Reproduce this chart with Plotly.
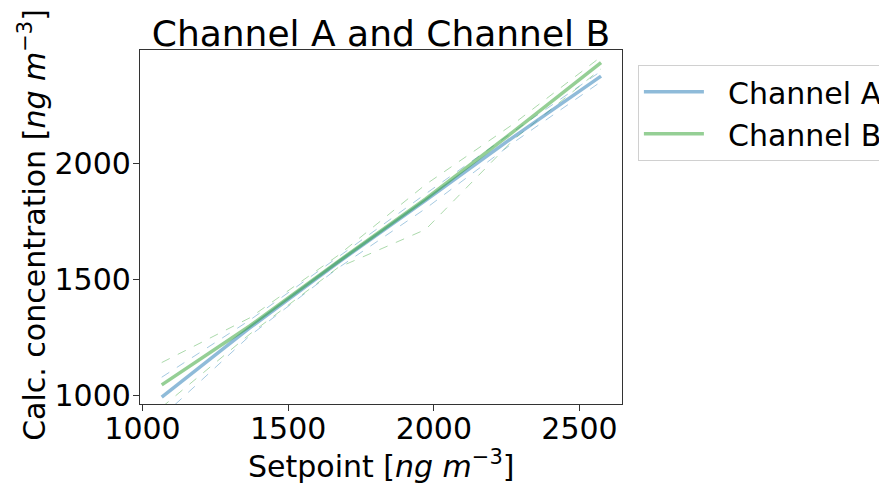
import plotly.graph_objects as go

setpoints = [1066, 1368, 1670, 1972, 2273, 2574]

chan_a_mean = [995, 1292, 1572, 1840, 2112, 2374]
chan_a_upper = [1080, 1325, 1595, 1868, 2135, 2395]
chan_a_lower = [910, 1258, 1548, 1805, 2088, 2350]

chan_b_mean = [1047, 1300, 1576, 1846, 2135, 2432]
chan_b_upper = [1143, 1335, 1602, 1908, 2168, 2457]
chan_b_lower = [951, 1265, 1550, 1715, 2100, 2405]

x_ticks = [1000, 1500, 2000, 2500]
y_ticks = [1000, 1500, 2000]

blue = "rgba(31,119,180,0.5)"
green = "rgba(44,160,44,0.5)"
blue_d = "rgba(31,119,180,0.4)"
green_d = "rgba(44,160,44,0.4)"

FONT = "DejaVu Sans"
NB = "\u00a0\u00a0"

fig = go.Figure()
for lo, hi, col in [(chan_a_lower, chan_a_upper, blue_d), (chan_b_lower, chan_b_upper, green_d)]:
    for arr in (lo, hi):
        fig.add_trace(go.Scatter(x=setpoints, y=arr, mode="lines", showlegend=False,
                                 line=dict(color=col, width=1, dash="dash"), hoverinfo="skip"))

fig.add_trace(go.Scatter(x=setpoints, y=chan_a_mean, mode="lines", name=NB + "Channel A",
                         line=dict(color=blue, width=3.5)))
fig.add_trace(go.Scatter(x=setpoints, y=chan_b_mean, mode="lines", name=NB + "Channel B",
                         line=dict(color=green, width=3.5)))

axis_common = dict(showgrid=False, zeroline=False, showline=True, linecolor="#333",
                   linewidth=1.2, mirror=True, ticks="outside", ticklen=6, tickwidth=1.2,
                   tickcolor="#333", automargin=False,
                   tickfont=dict(family=FONT, size=30, color="black"))

fig.update_layout(
    width=887, height=483,
    margin=dict(l=132, r=273, t=42, b=87, autoexpand=False),
    paper_bgcolor="white", plot_bgcolor="white",
    font=dict(family=FONT, color="black"),
    title=dict(text="Channel A and Channel B", x=0.5, xref="paper", xanchor="center",
               y=1.0, yref="paper", yanchor="bottom", pad=dict(b=4),
               font=dict(family=FONT, size=36, color="black")),
    xaxis=dict(range=[991.4, 2646], tickvals=x_ticks, ticktext=[str(v) for v in x_ticks],
               ticklabelstandoff=-8, **axis_common),
    yaxis=dict(range=[965, 2486], tickvals=y_ticks, ticktext=[str(v) for v in y_ticks],
               ticklabelstandoff=-4, **axis_common),
    legend=dict(x=1.033, y=0.958, xanchor="left", yanchor="top",
                bordercolor="#d0d0d0", borderwidth=1, bgcolor="white",
                font=dict(family=FONT, size=30, color="black"),
                itemwidth=60, tracegroupgap=2),
    annotations=[
        dict(text="Setpoint [<i>ng m</i><sup>−3</sup>]", xref="paper", yref="paper",
             x=0.502, y=-0.172, xanchor="center", yanchor="middle", showarrow=False,
             font=dict(family=FONT, size=30, color="black")),
        dict(text="Calc. concentration [<i>ng m</i><sup>−3</sup>]", xref="paper", yref="paper",
             x=-0.222, y=0.506, xanchor="center", yanchor="middle", textangle=-90,
             showarrow=False, font=dict(family=FONT, size=30, color="black")),
    ],
)

fig.write_html("out.html")
